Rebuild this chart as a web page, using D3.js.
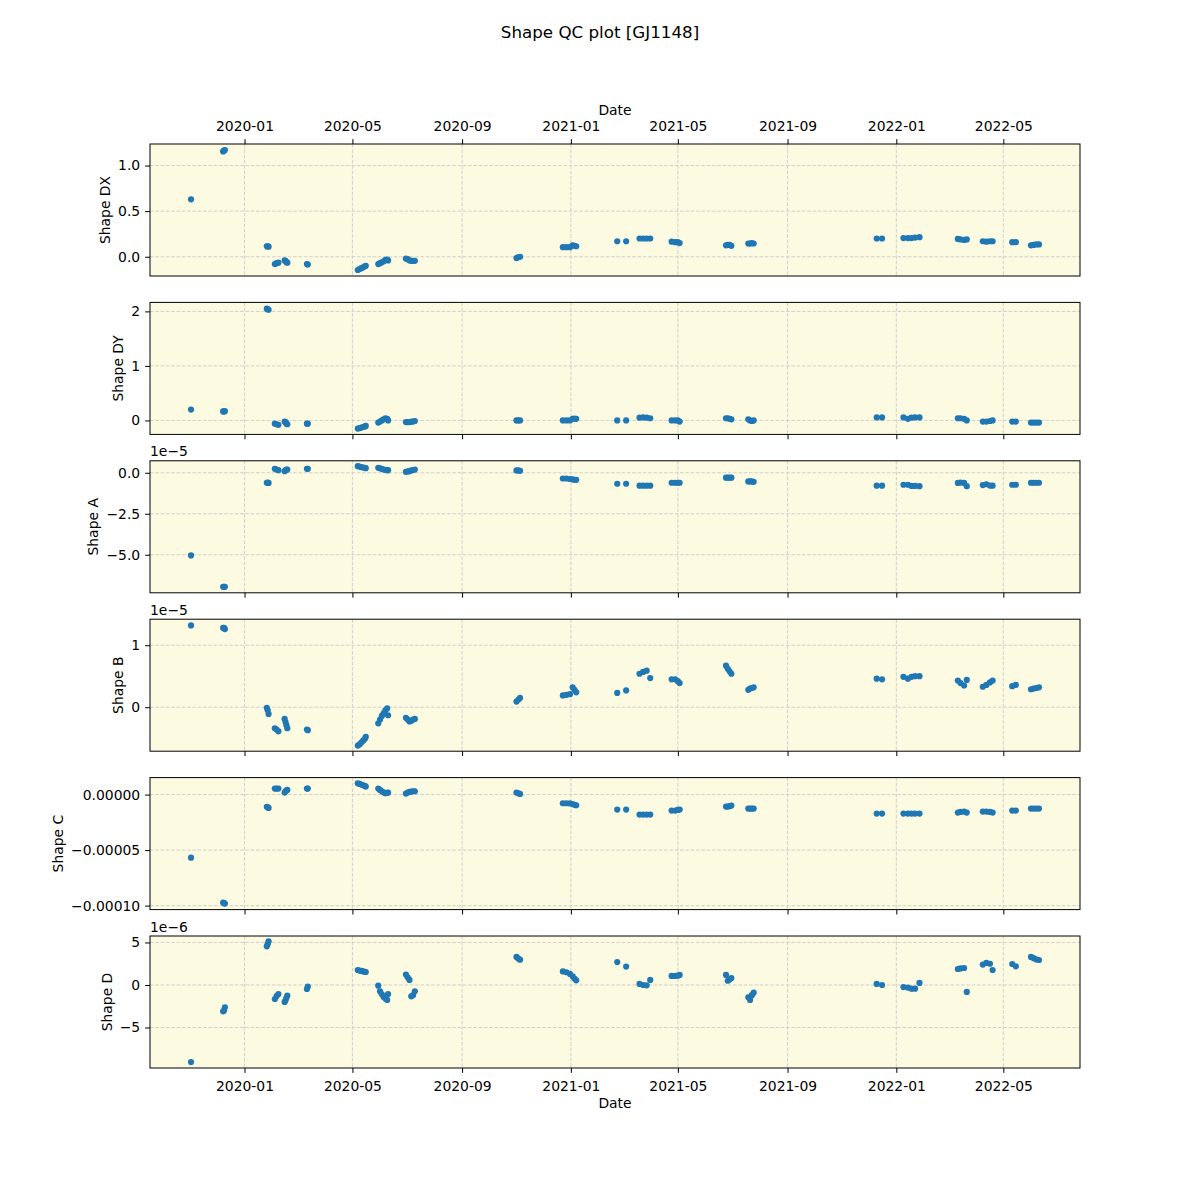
<!DOCTYPE html>
<html><head><meta charset="utf-8">
<script src="https://cdn.jsdelivr.net/npm/d3@7"></script>
<style>body{margin:0;background:#fff} svg{font-family:"DejaVu Sans",sans-serif}</style>
</head><body><svg id="c" width="1200" height="1200"></svg>
<script>
// ---- data ----
const dates = [
 "2019-11-02",
 "2019-12-08","2019-12-09","2019-12-10",
 "2020-01-26","2020-01-27","2020-01-28",
 "2020-02-04","2020-02-06","2020-02-08",
 "2020-02-15","2020-02-16","2020-02-17","2020-02-18",
 "2020-03-11","2020-03-12",
 "2020-05-07","2020-05-09","2020-05-11","2020-05-13","2020-05-15","2020-05-16",
 "2020-05-30","2020-06-01","2020-06-03","2020-06-05","2020-06-07","2020-06-09","2020-06-10",
 "2020-06-30","2020-07-02","2020-07-04","2020-07-06","2020-07-08","2020-07-10",
 "2020-11-01","2020-11-03","2020-11-05",
 "2020-12-23","2020-12-27","2020-12-31",
 "2021-01-03","2021-01-05","2021-01-07",
 "2021-02-22",
 "2021-03-04",
 "2021-03-19","2021-03-23","2021-03-27","2021-03-31",
 "2021-04-24","2021-04-28","2021-05-01","2021-05-03",
 "2021-06-24","2021-06-26","2021-06-28","2021-06-30",
 "2021-07-19","2021-07-21","2021-07-23","2021-07-25",
 "2021-12-10","2021-12-16",
 "2022-01-09","2022-01-14","2022-01-18","2022-01-22","2022-01-27",
 "2022-03-11","2022-03-14","2022-03-18","2022-03-21",
 "2022-04-08","2022-04-12","2022-04-16","2022-04-19",
 "2022-05-11","2022-05-15",
 "2022-06-01","2022-06-04","2022-06-07","2022-06-10"
];
const shapeDX = [
 0.63,
 1.155,1.165,1.17,
 0.114,0.115,0.11,
 -0.08,-0.07,-0.065,
 -0.04,-0.045,-0.06,-0.065,
 -0.08,-0.085,
 -0.145,-0.135,-0.125,-0.115,-0.105,-0.10,
 -0.08,-0.07,-0.06,-0.05,-0.035,-0.03,-0.04,
 -0.02,-0.025,-0.04,-0.045,-0.045,-0.045,
 -0.015,-0.005,0.0,
 0.105,0.105,0.105,
 0.125,0.12,0.115,
 0.17,
 0.17,
 0.2,0.2,0.2,0.2,
 0.165,0.16,0.16,0.15,
 0.125,0.13,0.13,0.12,
 0.145,0.145,0.15,0.145,
 0.2,0.2,
 0.205,0.205,0.205,0.21,0.215,
 0.195,0.19,0.185,0.19,
 0.17,0.165,0.17,0.17,
 0.16,0.16,
 0.125,0.13,0.135,0.135
];
const shapeDY = [
 0.2,
 0.165,0.165,0.17,
 2.05,2.04,2.03,
 -0.06,-0.07,-0.08,
 -0.02,-0.03,-0.06,-0.07,
 -0.06,-0.06,
 -0.15,-0.14,-0.13,-0.12,-0.11,-0.10,
 -0.04,-0.02,0.0,0.02,0.04,0.03,0.0,
 -0.03,-0.03,-0.03,-0.02,-0.02,-0.01,
 0.0,0.0,0.0,
 0.0,0.0,0.0,
 0.03,0.035,0.03,
 0.0,
 0.0,
 0.05,0.055,0.05,0.04,
 0.0,0.0,0.0,-0.02,
 0.04,0.04,0.03,0.02,
 0.02,0.0,-0.01,0.0,
 0.055,0.055,
 0.055,0.03,0.05,0.055,0.055,
 0.04,0.04,0.03,0.0,
 -0.02,-0.02,-0.01,0.0,
 -0.02,-0.02,
 -0.04,-0.04,-0.04,-0.04
];
const shapeA = [
 -5.04e-5,
 -6.95e-5,-6.95e-5,-6.95e-5,
 -0.61e-5,-0.60e-5,-0.62e-5,
 0.24e-5,0.20e-5,0.16e-5,
 0.10e-5,0.15e-5,0.20e-5,0.20e-5,
 0.24e-5,0.24e-5,
 0.40e-5,0.38e-5,0.35e-5,0.32e-5,0.30e-5,0.28e-5,
 0.30e-5,0.27e-5,0.24e-5,0.20e-5,0.18e-5,0.16e-5,0.16e-5,
 0.06e-5,0.08e-5,0.10e-5,0.14e-5,0.17e-5,0.20e-5,
 0.14e-5,0.14e-5,0.12e-5,
 -0.35e-5,-0.35e-5,-0.38e-5,
 -0.40e-5,-0.43e-5,-0.43e-5,
 -0.67e-5,
 -0.67e-5,
 -0.79e-5,-0.79e-5,-0.79e-5,-0.79e-5,
 -0.61e-5,-0.61e-5,-0.61e-5,-0.61e-5,
 -0.30e-5,-0.30e-5,-0.30e-5,-0.30e-5,
 -0.53e-5,-0.53e-5,-0.53e-5,-0.55e-5,
 -0.79e-5,-0.79e-5,
 -0.73e-5,-0.73e-5,-0.80e-5,-0.80e-5,-0.82e-5,
 -0.62e-5,-0.60e-5,-0.62e-5,-0.82e-5,
 -0.75e-5,-0.70e-5,-0.78e-5,-0.79e-5,
 -0.73e-5,-0.73e-5,
 -0.61e-5,-0.61e-5,-0.61e-5,-0.61e-5
];
const shapeB = [
 1.32e-5,
 1.28e-5,1.28e-5,1.26e-5,
 -0.01e-5,-0.05e-5,-0.11e-5,
 -0.34e-5,-0.36e-5,-0.39e-5,
 -0.19e-5,-0.24e-5,-0.29e-5,-0.34e-5,
 -0.36e-5,-0.37e-5,
 -0.62e-5,-0.60e-5,-0.57e-5,-0.54e-5,-0.51e-5,-0.48e-5,
 -0.26e-5,-0.20e-5,-0.14e-5,-0.10e-5,-0.05e-5,-0.02e-5,-0.13e-5,
 -0.17e-5,-0.20e-5,-0.23e-5,-0.22e-5,-0.20e-5,-0.19e-5,
 0.09e-5,0.12e-5,0.15e-5,
 0.19e-5,0.20e-5,0.21e-5,
 0.32e-5,0.28e-5,0.24e-5,
 0.23e-5,
 0.27e-5,
 0.54e-5,0.57e-5,0.59e-5,0.47e-5,
 0.45e-5,0.45e-5,0.42e-5,0.39e-5,
 0.67e-5,0.62e-5,0.58e-5,0.54e-5,
 0.28e-5,0.30e-5,0.31e-5,0.32e-5,
 0.46e-5,0.45e-5,
 0.49e-5,0.46e-5,0.49e-5,0.50e-5,0.50e-5,
 0.43e-5,0.39e-5,0.35e-5,0.44e-5,
 0.33e-5,0.36e-5,0.40e-5,0.43e-5,
 0.34e-5,0.36e-5,
 0.29e-5,0.30e-5,0.31e-5,0.32e-5
];
const shapeC = [
 -5.68e-5,
 -9.73e-5,-9.78e-5,-9.82e-5,
 -1.10e-5,-1.15e-5,-1.20e-5,
 0.54e-5,0.54e-5,0.54e-5,
 0.18e-5,0.30e-5,0.38e-5,0.42e-5,
 0.54e-5,0.54e-5,
 1.02e-5,0.96e-5,0.90e-5,0.84e-5,0.78e-5,0.72e-5,
 0.54e-5,0.42e-5,0.30e-5,0.20e-5,0.12e-5,0.15e-5,0.18e-5,
 0.09e-5,0.18e-5,0.24e-5,0.27e-5,0.30e-5,0.30e-5,
 0.18e-5,0.12e-5,0.06e-5,
 -0.78e-5,-0.78e-5,-0.80e-5,
 -0.85e-5,-0.92e-5,-0.96e-5,
 -1.35e-5,
 -1.35e-5,
 -1.80e-5,-1.80e-5,-1.80e-5,-1.80e-5,
 -1.44e-5,-1.44e-5,-1.38e-5,-1.35e-5,
 -1.08e-5,-1.08e-5,-1.04e-5,-0.99e-5,
 -1.26e-5,-1.26e-5,-1.26e-5,-1.26e-5,
 -1.71e-5,-1.71e-5,
 -1.71e-5,-1.71e-5,-1.71e-5,-1.71e-5,-1.71e-5,
 -1.62e-5,-1.56e-5,-1.53e-5,-1.62e-5,
 -1.53e-5,-1.53e-5,-1.56e-5,-1.62e-5,
 -1.44e-5,-1.44e-5,
 -1.26e-5,-1.26e-5,-1.26e-5,-1.26e-5
];
const shapeD = [
 -9.06e-6,
 -3.10e-6,-3.00e-6,-2.63e-6,
 4.55e-6,4.80e-6,5.14e-6,
 -1.65e-6,-1.30e-6,-1.06e-6,
 -2.00e-6,-1.80e-6,-1.50e-6,-1.25e-6,
 -0.47e-6,-0.20e-6,
 1.76e-6,1.70e-6,1.65e-6,1.60e-6,1.55e-6,1.53e-6,
 -0.08e-6,-0.75e-6,-1.10e-6,-1.40e-6,-1.60e-6,-1.76e-6,-1.06e-6,
 1.22e-6,0.90e-6,0.59e-6,-1.33e-6,-1.20e-6,-0.75e-6,
 3.30e-6,3.10e-6,2.98e-6,
 1.60e-6,1.50e-6,1.30e-6,
 1.02e-6,0.75e-6,0.55e-6,
 2.70e-6,
 2.16e-6,
 0.12e-6,0.00e-6,-0.04e-6,0.59e-6,
 1.06e-6,1.06e-6,1.10e-6,1.18e-6,
 1.18e-6,0.50e-6,0.65e-6,0.82e-6,
 -1.45e-6,-1.76e-6,-1.20e-6,-0.90e-6,
 0.12e-6,0.00e-6,
 -0.24e-6,-0.30e-6,-0.43e-6,-0.43e-6,0.24e-6,
 1.88e-6,1.95e-6,2.00e-6,-0.82e-6,
 2.40e-6,2.60e-6,2.50e-6,1.76e-6,
 2.47e-6,2.20e-6,
 3.30e-6,3.15e-6,3.00e-6,2.94e-6
];
const panelLabels = ["Shape DX","Shape DY","Shape A","Shape B","Shape C","Shape D"];
const yDomains = [[-0.211,1.236],[-0.256,2.165],[-7.32e-5,0.73e-5],[-0.71e-5,1.42e-5],[-10.36e-5,1.53e-5],[-9.76e-6,5.76e-6]];
const yTicks = [[0,0.5,1.0],[0,1,2],[-5e-5,-2.5e-5,0],[0,1e-5],[-1e-4,-5e-5,0],[-5e-6,0,5e-6]];
const yTickLabels = [["0.0","0.5","1.0"],["0","1","2"],["−5.0","−2.5","0.0"],["0","1"],["−0.00010","−0.00005","0.00000"],["−5","0","5"]];
const offsetTexts = ["","","1e−5","1e−5","","1e−6"];
const xTickDates = ["2020-01-01","2020-05-01","2020-09-01","2021-01-01","2021-05-01","2021-09-01","2022-01-01","2022-05-01"];
const xTickLabels = ["2020-01","2020-05","2020-09","2021-01","2021-05","2021-09","2022-01","2022-05"];
const xDomain = ["2019-09-17","2022-07-26"];
const titleText = "Shape QC plot [GJ1148]";
const axisTitle = "Date";

// ---- drawing ----
const series = [shapeDX, shapeDY, shapeA, shapeB, shapeC, shapeD];
const parse = d3.utcParse("%Y-%m-%d");
const dateObjs = dates.map(parse);
const xTicks = xTickDates.map(parse);
const svg = d3.select("#c");
const L = 150, R = 1080, T0 = 144, H = 132, STEP = 158.4;
const FS = 13.9;
const x = d3.scaleUtc().domain(xDomain.map(parse)).range([L, R]);

svg.append("text").attr("x", 600).attr("y", 38).attr("text-anchor", "middle")
  .attr("font-size", 16.7).text(titleText);

series.forEach((vals, i) => {
  const top = T0 + i * STEP, bot = top + H;
  const y = d3.scaleLinear().domain(yDomains[i]).range([bot, top]);
  const g = svg.append("g");
  g.append("rect").attr("x", L).attr("y", top).attr("width", R - L).attr("height", H).attr("fill", "#fcfbe2");
  // grid
  g.selectAll(".gx").data(xTicks).join("line")
    .attr("x1", d => x(d)).attr("x2", d => x(d)).attr("y1", top).attr("y2", bot)
    .attr("stroke", "#cccccc").attr("stroke-width", 0.9).attr("stroke-dasharray", "3.7,1.6");
  g.selectAll(".gy").data(yTicks[i]).join("line")
    .attr("x1", L).attr("x2", R).attr("y1", d => y(d)).attr("y2", d => y(d))
    .attr("stroke", "#cccccc").attr("stroke-width", 0.9).attr("stroke-dasharray", "3.7,1.6");
  // points
  g.selectAll("circle").data(vals).join("circle")
    .attr("cx", (d, j) => x(dateObjs[j])).attr("cy", d => y(d)).attr("r", 3.1)
    .attr("fill", "#1f77b4");
  // frame
  g.append("rect").attr("x", L).attr("y", top).attr("width", R - L).attr("height", H)
    .attr("fill", "none").attr("stroke", "#000").attr("stroke-width", 1);
  // y axis
  const ya = g.append("g").attr("transform", `translate(${L},0)`)
    .call(d3.axisLeft(y).tickValues(yTicks[i]).tickFormat((d, j) => yTickLabels[i][j]).tickSize(4.9).tickPadding(4.9));
  ya.select(".domain").remove();
  ya.selectAll("text").attr("font-size", FS).attr("font-family", "DejaVu Sans").attr("fill", "#000");
  const bb = ya.node().getBBox();
  const lx = L + bb.x - 8;
  g.append("text").attr("transform", `translate(${lx},${top + H / 2}) rotate(-90)`)
    .attr("text-anchor", "middle").attr("font-size", FS).text(panelLabels[i]);
  if (offsetTexts[i]) {
    g.append("text").attr("x", L).attr("y", top - 4.5).attr("font-size", FS).text(offsetTexts[i]);
  }
  // x axis
  if (i === 0) {
    const xa = g.append("g").attr("transform", `translate(0,${top})`)
      .call(d3.axisTop(x).tickValues(xTicks).tickFormat((d, j) => xTickLabels[j]).tickSize(4.9).tickPadding(7.8));
    xa.select(".domain").remove();
    xa.selectAll("text").attr("font-size", FS).attr("font-family", "DejaVu Sans").attr("fill", "#000");
    g.append("text").attr("x", (L + R) / 2).attr("y", top - 29).attr("text-anchor", "middle").attr("font-size", FS).text(axisTitle);
  } else {
    const last = i === series.length - 1;
    const xa = g.append("g").attr("transform", `translate(0,${bot})`)
      .call(d3.axisBottom(x).tickValues(xTicks).tickFormat((d, j) => last ? xTickLabels[j] : "").tickSize(4.9).tickPadding(7.8));
    xa.select(".domain").remove();
    xa.selectAll("text").attr("font-size", FS).attr("font-family", "DejaVu Sans").attr("fill", "#000");
    if (last) {
      g.append("text").attr("x", (L + R) / 2).attr("y", bot + 40).attr("text-anchor", "middle").attr("font-size", FS).text(axisTitle);
    }
  }
});
</script></body></html>
